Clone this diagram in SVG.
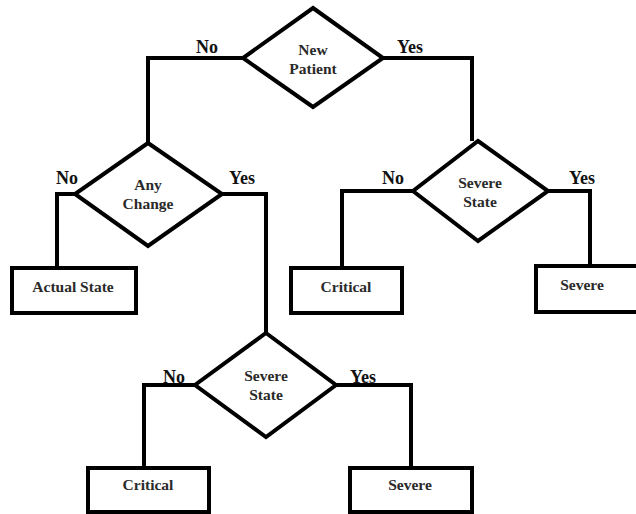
<svg xmlns="http://www.w3.org/2000/svg" width="636" height="514" viewBox="0 0 636 514">
<style>
.shape{fill:#fff;stroke:#000;stroke-width:4;stroke-linejoin:miter}
.conn{fill:none;stroke:#000;stroke-width:4;stroke-linejoin:miter}
.t{font-family:"Liberation Serif","Times New Roman",serif;font-weight:bold;font-size:15.5px;fill:#2a2a2a;text-anchor:middle}
.lbl{font-family:"Liberation Serif","Times New Roman",serif;font-weight:bold;font-size:18px;fill:#111;text-anchor:middle}
</style>
<rect width="636" height="514" fill="#fff"/>
<g id="connectors">
<polyline class="conn" points="243,58 148,58 148,143"/>
<polyline class="conn" points="383,58 472,58 472,141"/>
<polyline class="conn" points="75,194 57,194 57,268"/>
<polyline class="conn" points="222,194 266,194 266,333"/>
<polyline class="conn" points="413,191 342,191 342,268"/>
<polyline class="conn" points="548,191 590,191 590,266"/>
<polyline class="conn" points="195,385 144,385 144,468"/>
<polyline class="conn" points="336,385 411,385 411,468"/>
</g>
<g id="labels">
<text class="lbl" x="207" y="53">No</text>
<text class="lbl" x="410" y="53">Yes</text>
<text class="lbl" x="67" y="184">No</text>
<text class="lbl" x="242" y="184">Yes</text>
<text class="lbl" x="393" y="184">No</text>
<text class="lbl" x="582" y="184">Yes</text>
<text class="lbl" x="174" y="383">No</text>
<text class="lbl" x="363" y="383">Yes</text>
</g>
<g id="new-patient">
<polygon class="shape" points="313,8 383,58 313,107 243,58"/>
<text class="t" x="313" y="55">New</text>
<text class="t" x="313" y="74">Patient</text>
</g>
<g id="any-change">
<polygon class="shape" points="148,143 222,194 148,246 75,194"/>
<text class="t" x="148" y="190">Any</text>
<text class="t" x="148" y="209">Change</text>
</g>
<g id="severe-state-1">
<polygon class="shape" points="478,141 548,191 478,241 413,191"/>
<text class="t" x="480" y="188">Severe</text>
<text class="t" x="480" y="207">State</text>
</g>
<g id="severe-state-2">
<polygon class="shape" points="266,333 336,385 266,437 195,385"/>
<text class="t" x="266" y="381">Severe</text>
<text class="t" x="266" y="400">State</text>
</g>
<g id="actual-state">
<rect class="shape" x="12" y="268" width="124" height="45"/>
<text class="t" x="73" y="292">Actual State</text>
</g>
<g id="critical-1">
<rect class="shape" x="291" y="268" width="111" height="45"/>
<text class="t" x="346" y="292">Critical</text>
</g>
<g id="severe-1">
<rect class="shape" x="536" y="266" width="102" height="46"/>
<text class="t" x="582" y="290">Severe</text>
</g>
<g id="critical-2">
<rect class="shape" x="88" y="468" width="121" height="44"/>
<text class="t" x="148" y="490">Critical</text>
</g>
<g id="severe-2">
<rect class="shape" x="350" y="468" width="122" height="44"/>
<text class="t" x="410" y="490">Severe</text>
</g>
</svg>
